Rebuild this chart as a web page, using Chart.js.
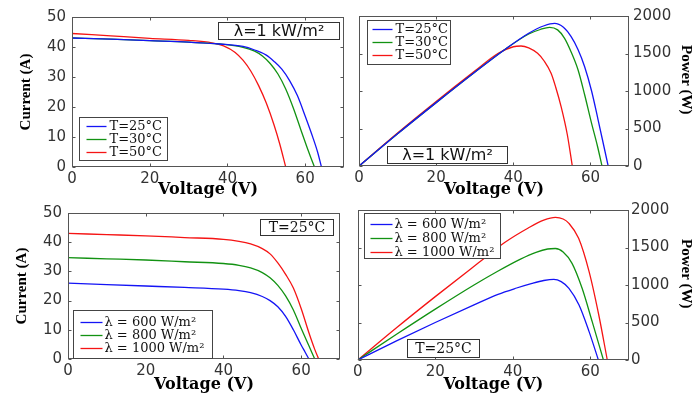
<!DOCTYPE html>
<html>
<head>
<meta charset="utf-8">
<script src="https://cdn.jsdelivr.net/npm/chart.js@4/dist/chart.umd.min.js"></script>
<style>
  html, body { margin: 0; padding: 0; background: #fff; }
  #page { position: relative; width: 693px; height: 396px; overflow: hidden; background: #fff; }
  #page canvas { position: absolute; }
</style>
</head>
<body>
<div id="page">
  <canvas id="ivTemp" width="350" height="198" style="left:0;top:0"></canvas>
  <canvas id="pvTemp" width="343" height="198" style="left:350px;top:0"></canvas>
  <canvas id="ivIrr" width="350" height="198" style="left:0;top:198px"></canvas>
  <canvas id="pvIrr" width="343" height="198" style="left:350px;top:198px"></canvas>
</div>
<script>
/////////////////////
//      Data       //
/////////////////////
// Top left: I-V at 1 kW/m2 for three temperatures
const ivVoltage25 = [0, 10, 20, 30, 38, 44, 47, 50, 52, 54, 56, 58, 60, 62, 63.2, 64.2];
const ivCurrent25 = [43.0, 42.6, 42.1, 41.6, 41.0, 40.2, 39.0, 37.3, 35.2, 32.6, 28.8, 23.8, 17.0, 9.8, 5.0, 0];
const ivVoltage30 = [0, 10, 20, 30, 38, 44, 47, 49, 51, 53, 55, 57, 59, 60.5, 61.5, 62.4];
const ivCurrent30 = [43.0, 42.6, 42.1, 41.6, 41.0, 39.9, 38.6, 37.0, 34.5, 31.0, 26.0, 19.5, 12.0, 6.5, 3.0, 0];
const ivVoltage50 = [0, 10, 20, 30, 36, 39, 42, 44, 46, 48, 50, 52, 53.5, 55];
const ivCurrent50 = [44.5, 43.7, 42.9, 42.2, 41.4, 40.4, 38.2, 35.6, 32.0, 27.2, 21.3, 14.0, 7.5, 0];

// Top right: P-V at 1 kW/m2 for three temperatures
const pvVoltage25 = [0, 10, 20, 30, 38, 44, 48, 50.7, 53, 55, 56.8, 58.5, 60.3, 62, 63.5, 64.6];
const pvPower25 = [0, 430, 845, 1250, 1560, 1770, 1870, 1902, 1850, 1724, 1550, 1324, 1000, 613, 260, 0];
const pvVoltage30 = [0, 10, 20, 30, 38, 44, 47, 49.4, 51.5, 53.3, 55, 56.8, 58.5, 60.3, 61.8, 63];
const pvPower30 = [0, 430, 845, 1250, 1560, 1760, 1820, 1849, 1815, 1702, 1520, 1280, 950, 569, 270, 0];
const pvVoltage50 = [0, 10, 20, 30, 36, 40, 42, 44, 46.3, 48, 49.8, 51, 52.4, 54, 55.3];
const pvPower50 = [0, 440, 860, 1265, 1500, 1590, 1600, 1575, 1502, 1400, 1236, 1050, 791, 420, 0];

// Bottom left: I-V at 25 C for three irradiances
const ivVoltage600 = [0, 10, 20, 30, 40, 44, 47, 50, 52, 54, 56, 58, 60, 61, 62];
const ivCurrent600 = [26.0, 25.5, 25.0, 24.5, 23.9, 23.4, 22.7, 21.4, 20.0, 17.9, 14.6, 10.0, 4.8, 2.4, 0];
const ivVoltage800 = [0, 10, 20, 30, 40, 44, 47, 50, 52, 54, 56, 58, 60, 62, 63.5];
const ivCurrent800 = [34.7, 34.3, 33.9, 33.3, 32.7, 32.1, 31.2, 29.6, 27.8, 25.2, 21.6, 16.8, 10.5, 4.5, 0];
const ivVoltage1000 = [0, 10, 20, 30, 40, 44, 47, 50, 52, 54, 56, 58, 60, 62, 63.5, 64.5];
const ivCurrent1000 = [43.0, 42.6, 42.2, 41.6, 41.0, 40.3, 39.4, 37.8, 36.0, 32.9, 29.0, 24.3, 17.3, 9.0, 3.3, 0];

// Bottom right: P-V at 25 C for three irradiances
const pvVoltage600 = [0, 10, 20, 30, 36.2, 41, 45, 48, 50.6, 52.5, 54.5, 57.1, 59.7, 62.1];
const pvPower600 = [0, 255, 500, 735, 876, 960, 1022, 1060, 1076, 1045, 956, 733, 378, 0];
const pvVoltage800 = [0, 10, 20, 30, 36, 42, 46, 49, 51, 53, 55.3, 57.9, 60.5, 63.4];
const pvPower800 = [0, 343, 678, 1000, 1180, 1345, 1435, 1480, 1487, 1440, 1289, 956, 511, 0];
const pvVoltage1000 = [0, 10, 20, 31, 38, 44, 48, 51, 53, 54.5, 57, 59.7, 62.2, 64.4];
const pvPower1000 = [0, 430, 845, 1289, 1569, 1760, 1865, 1902, 1880, 1822, 1622, 1178, 600, 0];

const tempLabels = ['T=25°C', 'T=30°C', 'T=50°C'];
const irrLabels = ['λ = 600 W/m²', 'λ = 800 W/m²', 'λ = 1000 W/m²'];
const irrNote = 'λ=1 kW/m²';
const tempNote = 'T=25°C';

const voltageTicks = { min: 0, max: 70, step: 20 };
const currentTicks = { min: 0, max: 50, step: 10 };
const powerTicks = { min: 0, max: 2000, step: 500 };


/////////////////////
//     Styling     //
/////////////////////
const BLUE = '#1414f5';
const GREEN = '#129212';
const RED = '#f51414';
const LINE_WIDTH = 1.3;
const FRAME_COLOR = '#555';
const TICK_LEN = 3;
const TICK_FONT = { family: 'DejaVu Sans', size: 15 };
const TICK_COLOR = '#333';
const X_TITLE_FONT = { family: 'DejaVu Serif', size: 16, weight: 'bold', lineHeight: 1 };
const Y_TITLE_FONT = { family: 'Liberation Serif', size: 15, weight: 'bold', lineHeight: 1 };


////////////////////////////
//    Helper Functions    //
////////////////////////////
function series(label, color, xs, ys) {
  return {
    label,
    borderColor: color,
    backgroundColor: color,
    data: xs.map((x, i) => ({ x, y: ys[i] })),
    borderWidth: LINE_WIDTH,
    pointRadius: 0,
    cubicInterpolationMode: 'monotone',
    fill: false
  };
}

function voltageAxis(titlePad, height) {
  return {
    type: 'linear',
    position: 'bottom',
    min: voltageTicks.min,
    max: voltageTicks.max,
    grid: { display: false, drawTicks: false },
    border: { display: false },
    ticks: { stepSize: voltageTicks.step, includeBounds: false, padding: 3, maxRotation: 0, color: TICK_COLOR, font: TICK_FONT },
    title: { display: true, text: 'Voltage (V)', color: '#000', font: X_TITLE_FONT, padding: { top: 0, bottom: titlePad } },
    afterFit: (scale) => { scale.height = height; }
  };
}

function valueAxis(position, range, title, titlePad, labelPad, width) {
  return {
    type: 'linear',
    position,
    min: range.min,
    max: range.max,
    grid: { display: false, drawTicks: false },
    border: { display: false },
    ticks: { stepSize: range.step, padding: labelPad, color: TICK_COLOR, font: TICK_FONT, format: { useGrouping: false } },
    title: { display: true, text: title, color: '#000', font: Y_TITLE_FONT, padding: { top: titlePad, bottom: 0 } },
    afterFit: (scale) => { scale.width = width; }
  };
}

// Frame with inward ticks on all four sides, legend box and note box
const panelDecor = {
  id: 'panelDecor',
  afterDatasetsDraw(chart, args, opts) {
    const ctx = chart.ctx;
    const area = chart.chartArea;
    const xs = chart.scales.x;
    const ys = chart.scales.y;
    const l = Math.round(area.left) + 0.5;
    const r = Math.round(area.right) - 0.5;
    const t = Math.round(area.top) + 0.5;
    const b = Math.round(area.bottom) - 0.5;
    ctx.save();
    ctx.strokeStyle = FRAME_COLOR;
    ctx.lineWidth = 1;
    ctx.beginPath();
    for (const tick of xs.ticks) {
      const px = Math.round(xs.getPixelForValue(tick.value)) + 0.5;
      ctx.moveTo(px, b); ctx.lineTo(px, b - TICK_LEN);
      ctx.moveTo(px, t); ctx.lineTo(px, t + TICK_LEN);
    }
    for (const tick of ys.ticks) {
      const py = Math.round(ys.getPixelForValue(tick.value)) + 0.5;
      ctx.moveTo(l, py); ctx.lineTo(l + TICK_LEN, py);
      ctx.moveTo(r, py); ctx.lineTo(r - TICK_LEN, py);
    }
    ctx.stroke();
    ctx.strokeRect(l, t, r - l, b - t);

    // legend
    const lg = opts.legend;
    const bx = Math.round(area.left + lg.dx) + 0.5;
    const by = Math.round(area.top + lg.dy) + 0.5;
    ctx.fillStyle = '#fff';
    ctx.fillRect(bx, by, lg.w, lg.h);
    ctx.strokeStyle = '#444';
    ctx.strokeRect(bx, by, lg.w, lg.h);
    ctx.font = lg.fontSize + 'px "DejaVu Serif"';
    ctx.textBaseline = 'middle';
    ctx.textAlign = 'left';
    chart.data.datasets.forEach((ds, i) => {
      const ry = by + lg.rowTop + i * lg.rowGap;
      ctx.strokeStyle = ds.borderColor;
      ctx.lineWidth = LINE_WIDTH;
      ctx.beginPath();
      ctx.moveTo(bx + lg.lineFrom, ry);
      ctx.lineTo(bx + lg.lineTo, ry);
      ctx.stroke();
      ctx.fillStyle = '#111';
      ctx.fillText(ds.label, bx + lg.textX, ry + 0.5);
    });

    // note box
    const nt = opts.note;
    const nx = Math.round(area.left + nt.dx) + 0.5;
    const ny = Math.round(area.top + nt.dy) + 0.5;
    ctx.fillStyle = '#fff';
    ctx.fillRect(nx, ny, nt.w, nt.h);
    ctx.strokeStyle = '#333';
    ctx.lineWidth = 1;
    ctx.strokeRect(nx, ny, nt.w, nt.h);
    ctx.font = nt.fontSize + 'px "' + nt.family + '"';
    ctx.textAlign = 'center';
    ctx.fillStyle = '#111';
    ctx.fillText(nt.text, nx + nt.w / 2, ny + nt.h / 2 + 1);
    ctx.restore();
  }
};

function makeChart(id, datasets, scales, padding, decor) {
  return new Chart(document.getElementById(id), {
    type: 'line',
    data: { datasets },
    options: {
      responsive: false,
      animation: false,
      layout: { padding },
      scales,
      plugins: {
        legend: { display: false },
        tooltip: { enabled: false },
        panelDecor: decor
      }
    },
    plugins: [panelDecor]
  });
}


///////////////////////
//    Main Script    //
///////////////////////
makeChart('ivTemp', [
  series(tempLabels[0], BLUE, ivVoltage25, ivCurrent25),
  series(tempLabels[1], GREEN, ivVoltage30, ivCurrent30),
  series(tempLabels[2], RED, ivVoltage50, ivCurrent50)
], {
  x: voltageAxis(0, 31),
  y: valueAxis('left', currentTicks, 'Current (A)', 19, 6, 72)
}, { left: 0, top: 17, right: 6, bottom: 0 }, {
  legend: { dx: 7, dy: 100, w: 88, h: 43, rowTop: 9, rowGap: 13, lineFrom: 7, lineTo: 27, textX: 30, fontSize: 13 },
  note: { text: irrNote, dx: 146, dy: 5, w: 121, h: 17, fontSize: 16, family: 'DejaVu Sans' }
});

makeChart('pvTemp', [
  series(tempLabels[0], BLUE, pvVoltage25, pvPower25),
  series(tempLabels[1], GREEN, pvVoltage30, pvPower30),
  series(tempLabels[2], RED, pvVoltage50, pvPower50)
], {
  x: voltageAxis(0, 32),
  y: valueAxis('right', powerTicks, 'Power (W)      ', 0, 4, 64)
}, { left: 9, top: 16, right: 0, bottom: 0 }, {
  legend: { dx: 8, dy: 4, w: 83, h: 44, rowTop: 9, rowGap: 13, lineFrom: 5, lineTo: 25, textX: 28, fontSize: 13 },
  note: { text: irrNote, dx: 28, dy: 130, w: 120, h: 17, fontSize: 16, family: 'DejaVu Sans' }
});

makeChart('ivIrr', [
  series(irrLabels[0], BLUE, ivVoltage600, ivCurrent600),
  series(irrLabels[1], GREEN, ivVoltage800, ivCurrent800),
  series(irrLabels[2], RED, ivVoltage1000, ivCurrent1000)
], {
  x: voltageAxis(3, 37),
  y: valueAxis('left', currentTicks, 'Current (A)', 15, 6, 68)
}, { left: 0, top: 11, right: 10, bottom: 0 }, {
  legend: { dx: 5, dy: 97, w: 139, h: 48, rowTop: 12, rowGap: 13, lineFrom: 7, lineTo: 29, textX: 31, fontSize: 13 },
  note: { text: tempNote, dx: 192, dy: 6, w: 73, h: 16, fontSize: 14, family: 'DejaVu Serif' }
});

makeChart('pvIrr', [
  series(irrLabels[0], BLUE, pvVoltage600, pvPower600),
  series(irrLabels[1], GREEN, pvVoltage800, pvPower800),
  series(irrLabels[2], RED, pvVoltage1000, pvPower1000)
], {
  x: voltageAxis(3, 36),
  y: valueAxis('right', powerTicks, 'Power (W)      ', 0, 2, 64)
}, { left: 6, top: 12, right: 0, bottom: 0 }, {
  legend: { dx: 6, dy: 3, w: 136, h: 45, rowTop: 11, rowGap: 14, lineFrom: 6, lineTo: 28, textX: 30, fontSize: 13 },
  note: { text: tempNote, dx: 49, dy: 129, w: 72, h: 18, fontSize: 14, family: 'DejaVu Serif' }
});
</script>
</body>
</html>
